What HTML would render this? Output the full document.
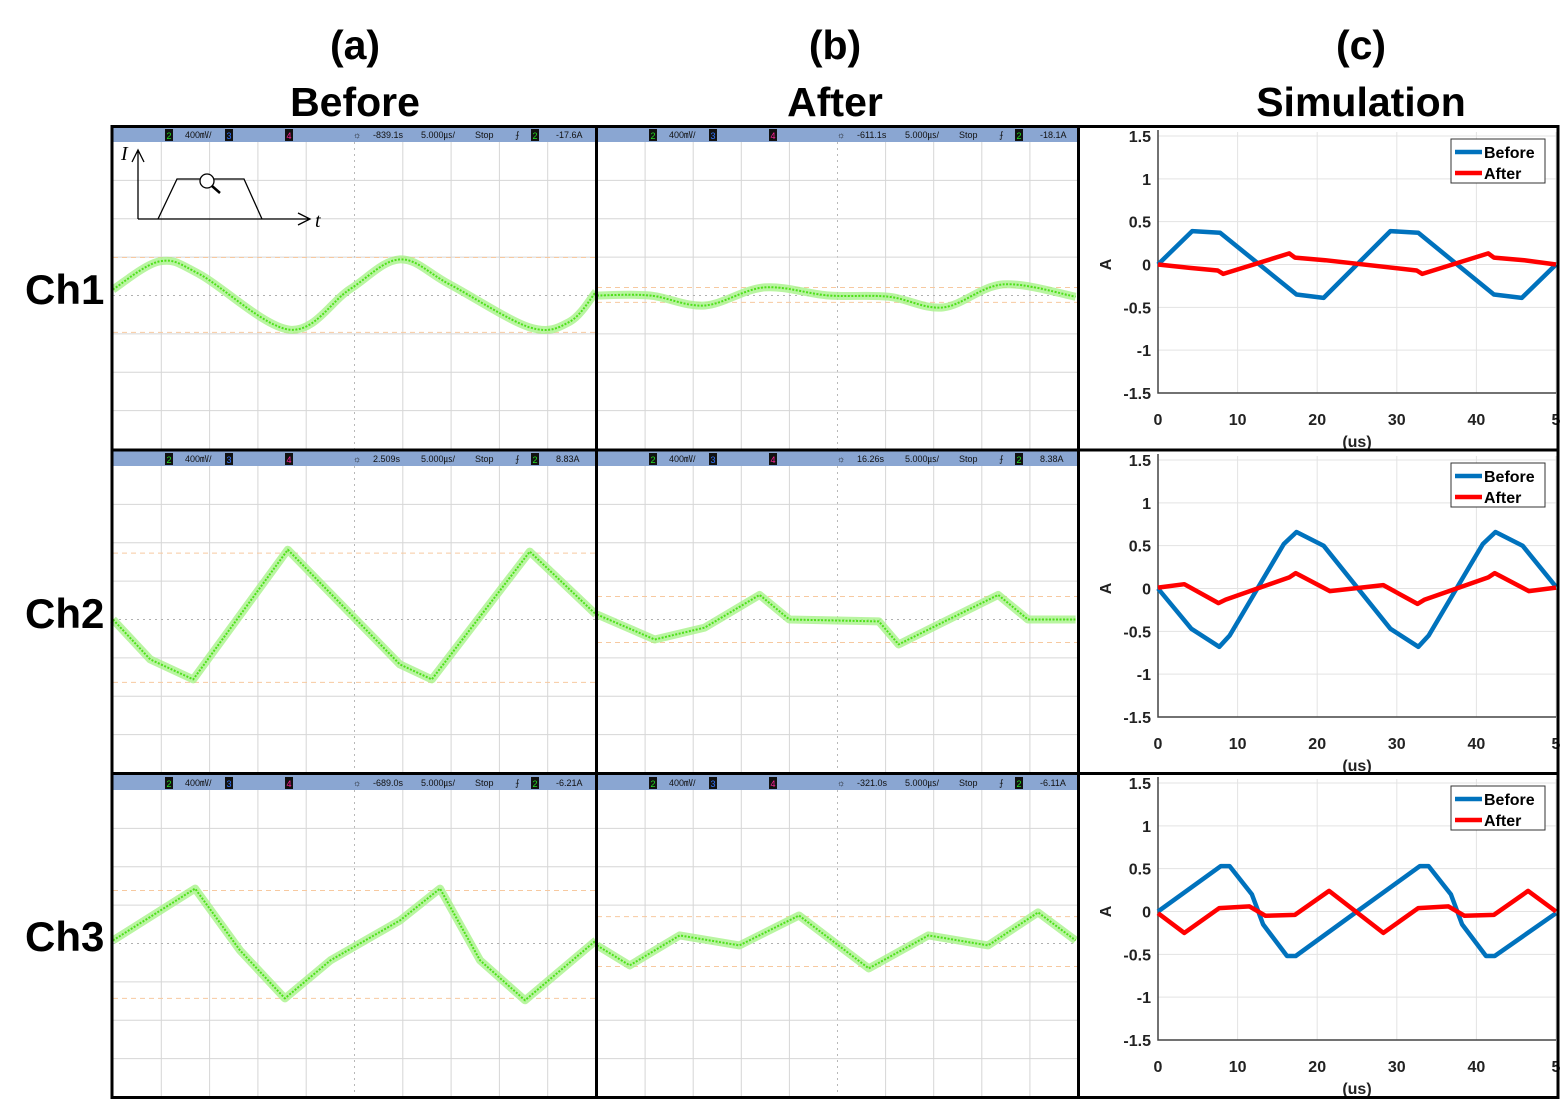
<!DOCTYPE html>
<html><head><meta charset="utf-8"><style>
html,body{margin:0;padding:0;background:#fff;}
svg{display:block;font-family:"Liberation Sans",sans-serif;}
</style></head><body>
<svg id="fig" width="1561" height="1101" viewBox="0 0 1561 1101" xmlns="http://www.w3.org/2000/svg">
<g font-weight="bold" font-size="41" text-anchor="middle" fill="#000">
<text x="355" y="59">(a)</text>
<text x="355" y="116">Before</text>
<text x="835" y="59">(b)</text>
<text x="835" y="116">After</text>
<text x="1361" y="59">(c)</text>
<text x="1361" y="116">Simulation</text>
</g>
<g font-weight="bold" font-size="42" fill="#000">
<text x="25" y="304">Ch1</text>
<text x="25" y="628">Ch2</text>
<text x="25" y="951">Ch3</text>
</g>
<g id="panels"></g>
<g id="frame" stroke="#000" stroke-width="3" fill="none">
<rect x="112" y="126.5" width="1446" height="971"/>
<line x1="596.5" y1="126" x2="596.5" y2="1098"/>
<line x1="1078.5" y1="126" x2="1078.5" y2="1098"/>
<line x1="112" y1="450" x2="1558" y2="450"/>
<line x1="112" y1="773.5" x2="1558" y2="773.5"/>
</g>
</svg>
<script>
// ---- Oscilloscope data (time in divisions 0-10, value in divisions from center) ----
const scopeT_ch1_before = [0,0.97,1.8,3.66,4.9,5.94,6.97,8.63,9.46,10];
const scopeV_ch1_before = [0.16,0.89,0.55,-0.89,0.16,0.94,0.29,-0.83,-0.68,0.1];
const scopeT_ch1_after = [0,1.1,2.24,3.48,4.82,6.06,7.2,8.44,9.95];
const scopeV_ch1_after = [0,0,-0.26,0.21,0,-0.03,-0.31,0.29,-0.03];
const scopeT_ch2_before = [0,0.77,1.66,3.62,5.94,6.6,8.63,10];
const scopeV_ch2_before = [0,-1.04,-1.56,1.82,-1.17,-1.56,1.77,0.13];
const scopeT_ch2_after = [0,1.2,2.24,3.38,4.0,5.86,6.27,7.1,8.34,8.96,9.95];
const scopeV_ch2_after = [0.13,-0.52,-0.21,0.64,0,-0.05,-0.65,-0.13,0.64,0,0];
const scopeT_ch3_before = [0,1.7,2.63,3.56,4.5,5.94,6.77,7.6,8.53,10];
const scopeV_ch3_before = [0.08,1.43,-0.18,-1.43,-0.44,0.6,1.43,-0.44,-1.48,0.08];
const scopeT_ch3_after = [0,0.68,1.72,2.96,4.2,5.65,6.89,8.13,9.17,9.95];
const scopeV_ch3_after = [-0.05,-0.57,0.21,-0.05,0.73,-0.65,0.21,-0.05,0.81,0.08];
const cursorLevels_before = [[0.99,-0.96],[1.73,-1.64],[1.38,-1.43]];
const cursorLevels_after = [[0.21,-0.18],[0.6,-0.6],[0.7,-0.6]];
const headerOffsetText_before = ["-839.1","2.509","-689.0"];
const headerOffsetText_after = ["-611.1","16.26","-321.0"];
const headerTrigText_before = ["-17.6A","8.83A","-6.21A"];
const headerTrigText_after = ["-18.1A","8.38A","-6.11A"];

// ---- Simulation data (us, A) ----
const simX_ch1_before = [0,4.3,7.8,17.4,20.8,29.2,32.7,42.2,45.7,50];
const simY_ch1_before = [0,0.39,0.37,-0.35,-0.39,0.39,0.37,-0.35,-0.39,0];
const simX_ch1_after = [0,4,7.5,8.2,16.5,17.2,21,32.5,33.2,41.5,42.2,46,50];
const simY_ch1_after = [0,-0.04,-0.07,-0.11,0.13,0.08,0.05,-0.07,-0.11,0.13,0.08,0.05,0];
const simX_ch2_before = [0,4.2,7.7,9,15.8,17.4,20.8,29.2,32.7,34,40.8,42.4,45.8,50];
const simY_ch2_before = [0,-0.47,-0.68,-0.55,0.52,0.66,0.5,-0.47,-0.68,-0.55,0.52,0.66,0.5,0.02];
const simX_ch2_after = [0,3.3,7.6,8.5,16.5,17.3,21.6,28.3,32.6,33.5,41.5,42.3,46.6,50];
const simY_ch2_after = [0.01,0.05,-0.17,-0.13,0.13,0.18,-0.03,0.04,-0.18,-0.13,0.13,0.18,-0.03,0.01];
const simX_ch3_before = [0,7.9,9,11.8,13.2,16.2,17.3,25,32.9,34,36.8,38.2,41.2,42.3,50];
const simY_ch3_before = [0,0.53,0.53,0.2,-0.15,-0.52,-0.52,0,0.53,0.53,0.2,-0.15,-0.52,-0.52,-0.02];
const simX_ch3_after = [0,3.3,7.7,11.5,13.5,17.2,21.5,28.3,32.7,36.5,38.5,42.2,46.5,50];
const simY_ch3_after = [-0.02,-0.25,0.04,0.06,-0.05,-0.04,0.24,-0.25,0.04,0.06,-0.05,-0.04,0.24,0];
const simXTicks = [0,10,20,30,40,50];
const simXTickLabels = ["0","10","20","30","40","5"];
const simYTicks = [1.5,1,0.5,0,-0.5,-1,-1.5];
const simYTickLabels = ["1.5","1","0.5","0","-0.5","-1","-1.5"];

const NS = "http://www.w3.org/2000/svg";
const root = document.getElementById('panels');
function mk(tag, attrs, parent){ const e=document.createElementNS(NS,tag); for(const k in attrs) e.setAttribute(k,attrs[k]); (parent||root).appendChild(e); return e; }
function smoothPath(P){
 let d='M'+P[0][0].toFixed(1)+','+P[0][1].toFixed(1);
 for(let i=0;i<P.length-1;i++){
  const p0=P[Math.max(0,i-1)],p1=P[i],p2=P[i+1],p3=P[Math.min(P.length-1,i+2)];
  const c1x=p1[0]+(p2[0]-p0[0])/6, c1y=p1[1]+(p2[1]-p0[1])/6;
  const c2x=p2[0]-(p3[0]-p1[0])/6, c2y=p2[1]-(p3[1]-p1[1])/6;
  d+='C'+c1x.toFixed(1)+','+c1y.toFixed(1)+' '+c2x.toFixed(1)+','+c2y.toFixed(1)+' '+p2[0].toFixed(1)+','+p2[1].toFixed(1);
 }
 return d;
}

const rowTops = [127,451,775];
const rowBottoms = [449,773,1097];
const scopeCols = [[113,596],[597,1078]];

const scopeData = [
 [[scopeT_ch1_before,scopeV_ch1_before],[scopeT_ch1_after,scopeV_ch1_after]],
 [[scopeT_ch2_before,scopeV_ch2_before],[scopeT_ch2_after,scopeV_ch2_after]],
 [[scopeT_ch3_before,scopeV_ch3_before],[scopeT_ch3_after,scopeV_ch3_after]]
];
const cursorSets=[cursorLevels_before,cursorLevels_after];
const offTexts=[headerOffsetText_before,headerOffsetText_after];
const trigTexts=[headerTrigText_before,headerTrigText_after];

for(let r=0;r<3;r++){
 for(let c=0;c<2;c++){
  const x0=scopeCols[c][0], x1=scopeCols[c][1];
  const top=rowTops[r], bot=rowBottoms[r];
  const gTop=top+15, gh=bot-gTop, gw=x1-x0;
  const g=mk('g',{});
  
  
  const sx=t=>x0+t*gw/10;
  const sy=v=>gTop+gh/2 - v*gh/8;
  for(let i=1;i<10;i++){
   const l=mk('line',{x1:sx(i),y1:gTop,x2:sx(i),y2:bot,stroke:i===5?'#b8b8b8':'#d6d6d6','stroke-width':1,'stroke-dasharray':i===5?'2,4':'none'},g);
   
   
  }
  for(let j=1;j<8;j++){
   const l=mk('line',{x1:x0,y1:sy(4-j),x2:x1,y2:sy(4-j),stroke:j===4?'#b0b0b0':'#d6d6d6','stroke-width':1,'stroke-dasharray':j===4?'2,4':'none'},g);
   
   
  }
  cursorSets[c][r].forEach(v=>{
   const l=mk('line',{x1:x0,y1:sy(v),x2:x1,y2:sy(v),stroke:'#f7c9a0','stroke-width':1,'stroke-dasharray':'5,4'},g);
   
   
  });
  const [T,V]=scopeData[r][c];
  const P=T.map((t,i)=>[sx(t),sy(V[i])]);
  let d;
  if(r===0){ d=smoothPath(P); } else { d=''; P.forEach((p,i)=>{d+=(i?'L':'M')+p[0].toFixed(1)+','+p[1].toFixed(1);}); }
  const band=mk('path',{d:d,fill:'none',stroke:'#a8f28a','stroke-width':8,'stroke-linejoin':'round',opacity:0.8},g);
  
  
  const tr=mk('path',{d:d,fill:'none',stroke:'#4ee01a','stroke-width':2,'stroke-dasharray':'2,1.5','stroke-linejoin':'round'},g);
  
  
  const hb=mk('rect',{x:x0,y:top,width:gw,height:15,fill:'#8aa6d2'},g);
  
  
  const ht=mk('g',{'font-size':9,fill:'#111'},g);
  
  
  const boxes=[[52,'2','#22dd22'],[112,'3','#3377ff'],[172,'4','#ff2299'],[418,'2','#22dd22']];
  boxes.forEach(b=>{
   mk('rect',{x:x0+b[0],y:top+2,width:8,height:12,fill:'#111'},ht);
   const t=mk('text',{x:x0+b[0]+4,y:top+12,'text-anchor':'middle',fill:b[2]},ht); t.textContent=b[1];
  });
  const labels=[[72,'400㎷/'],[240,'☼'],[260,offTexts[c][r]+'s'],[308,'5.000㎲/'],[362,'Stop'],[402,'⨍'],[443,trigTexts[c][r]]];
  labels.forEach(l=>{const t=mk('text',{x:x0+l[0],y:top+11},ht); t.textContent=l[1];});
 }
}
(function(){
 const g=mk('g',{fill:'none',stroke:'#000','stroke-width':1.3});
 
 
 mk('path',{d:'M138,219 L138,150 M132,162 L138,150 L144,162'},g);
 mk('path',{d:'M138,219 L310,219 M298,213 L310,219 L298,225'},g);
 mk('path',{d:'M158,219 L177,179 L244,179 L262,219'},g);
 mk('circle',{cx:207,cy:181,r:7,fill:'#fff'},g);
 mk('line',{x1:212,y1:186,x2:220,y2:193,'stroke-width':2.5},g);
 const ti=mk('text',{x:121,y:160,'font-size':20,'font-style':'italic',fill:'#000',stroke:'none','font-family':'Liberation Serif, serif'});
 ti.textContent='I';
 
 
 const tt=mk('text',{x:315,y:227,'font-size':20,'font-style':'italic',fill:'#000',stroke:'none','font-family':'Liberation Serif, serif'});
 tt.textContent='t';
 
 
})();

const simData=[
 [[simX_ch1_before,simY_ch1_before],[simX_ch1_after,simY_ch1_after]],
 [[simX_ch2_before,simY_ch2_before],[simX_ch2_after,simY_ch2_after]],
 [[simX_ch3_before,simY_ch3_before],[simX_ch3_after,simY_ch3_after]]
];
const simTop=[136,460,783], simBot=[393,717,1040];
for(let r=0;r<3;r++){
 const px0=1158, px1=1556, py0=simTop[r], py1=simBot[r];
 const sx=v=>px0+(v/50)*(px1-px0);
 const sy=v=>py0+(1.5-v)/3*(py1-py0);
 const g=mk('g',{});
 
 
 simXTicks.forEach((v,i)=>{
  const l=mk('line',{x1:sx(v),y1:py0-4,x2:sx(v),y2:py1,stroke:'#e3e3e3','stroke-width':1},g);
  
  
  const t=mk('text',{x:sx(v),y:py1+32,'text-anchor':'middle','font-size':16,'font-weight':'bold',fill:'#222'},g);
  t.textContent=simXTickLabels[i];
  
  
 });
 simYTicks.forEach((v,i)=>{
  const l=mk('line',{x1:px0,y1:sy(v),x2:px1,y2:sy(v),stroke:'#e3e3e3','stroke-width':1},g);
  
  
  const t=mk('text',{x:px0-7,y:sy(v)+6,'text-anchor':'end','font-size':16,'font-weight':'bold',fill:'#222'},g);
  t.textContent=simYTickLabels[i];
  
  
 });
 const ax=mk('path',{d:`M${px0},${py0-6} L${px0},${py1} L${px1},${py1}`,fill:'none',stroke:'#444','stroke-width':1.5},g);
 
 
 const yl=mk('text',{x:1111,y:(py0+py1)/2,'text-anchor':'middle','font-size':16,'font-weight':'bold',fill:'#222',transform:`rotate(-90 1111 ${(py0+py1)/2})`},g);
 yl.textContent='A';
 
 
 const xl=mk('text',{x:1357,y:py1+54,'text-anchor':'middle','font-size':16,'font-weight':'bold',fill:'#222'},g);
 xl.textContent='(us)';
 
 
 const colors=['#0072bd','#ff0000'];
 const names=['before','after'];
 [0,1].forEach(k=>{
  const [X,Y]=simData[r][k];
  let d=''; X.forEach((x,i)=>{d+=(i?'L':'M')+sx(x).toFixed(1)+','+sy(Y[i]).toFixed(1);});
  const p=mk('path',{d:d,fill:'none',stroke:colors[k],'stroke-width':4.5,'stroke-linejoin':'round'},g);
  
  
 });
 const lg=mk('g',{},g);
 
 
 const ly=py0+3;
 mk('rect',{x:1451,y:ly,width:94,height:44,fill:'#fff',stroke:'#333','stroke-width':1},lg);
 ['Before','After'].forEach((n,k)=>{
  const e=mk('g',{},lg);
  
  
  mk('line',{x1:1455,y1:ly+13+k*21,x2:1482,y2:ly+13+k*21,stroke:colors[k],'stroke-width':4.5},e);
  const t=mk('text',{x:1484,y:ly+19+k*21,'font-size':16,'font-weight':'bold',fill:'#000'},e);
  t.textContent=n;
 });
}
</script>
</body></html>
